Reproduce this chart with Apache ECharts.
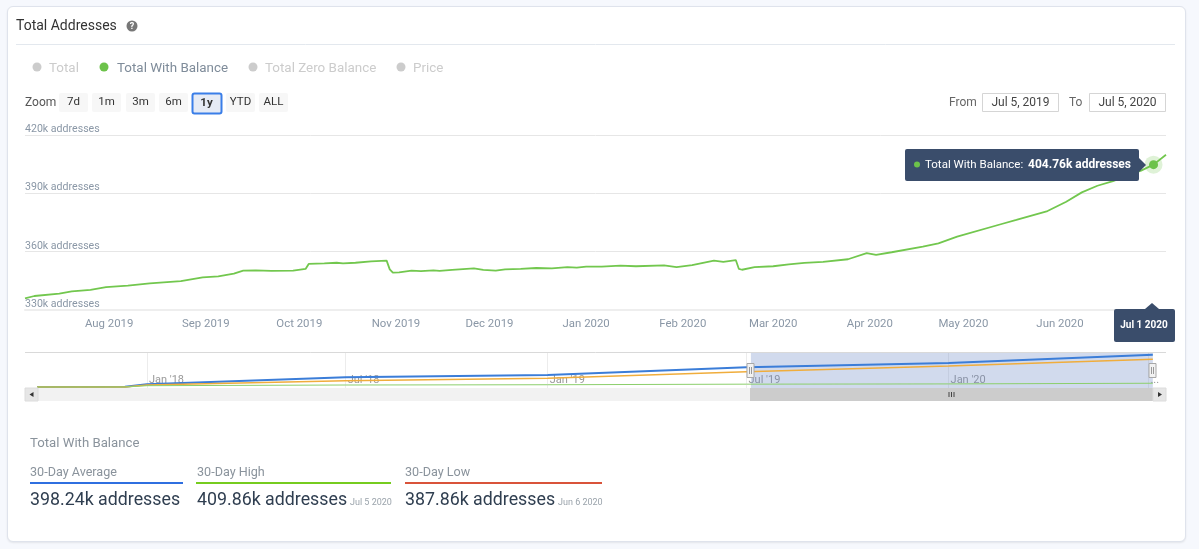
<!DOCTYPE html>
<html>
<head>
<meta charset="utf-8">
<script src="https://cdn.jsdelivr.net/npm/echarts@6/dist/echarts.min.js"></script>
<style>
html,body{margin:0;padding:0;width:1199px;height:549px;overflow:hidden;background:#f6f8fd}
#card{position:absolute;left:7px;top:6px;width:1177px;height:534px;background:#fff;border:1px solid #dfe3ec;border-radius:6px;box-sizing:content-box;box-shadow:0 1px 2px rgba(0,0,0,.08)}
#c{position:absolute;left:0;top:0;width:1199px;height:549px}
</style>
</head>
<body>
<div id="card"></div>
<div id="c"></div>
<script>
var mainDates = ['2019-07-05','2019-07-08','2019-07-16','2019-07-20','2019-07-26','2019-07-31','2019-08-07','2019-08-14','2019-08-24','2019-08-31','2019-09-05','2019-09-10','2019-09-13','2019-09-17','2019-09-22','2019-09-29','2019-10-03','2019-10-04','2019-10-09','2019-10-13','2019-10-15','2019-10-19','2019-10-24','2019-10-29','2019-10-30','2019-10-31','2019-11-02','2019-11-06','2019-11-09','2019-11-13','2019-11-15','2019-11-19','2019-11-26','2019-11-29','2019-12-03','2019-12-06','2019-12-11','2019-12-16','2019-12-21','2019-12-26','2019-12-29','2020-01-01','2020-01-06','2020-01-12','2020-01-17','2020-01-26','2020-01-30','2020-02-04','2020-02-11','2020-02-14','2020-02-18','2020-02-19','2020-02-20','2020-02-24','2020-03-01','2020-03-06','2020-03-11','2020-03-17','2020-03-25','2020-03-31','2020-04-03','2020-04-08','2020-04-18','2020-04-23','2020-04-29','2020-05-13','2020-05-18','2020-05-28','2020-06-03','2020-06-08','2020-06-13','2020-06-18','2020-06-23','2020-06-27','2020-07-01','2020-07-05'];
var withBalance = [336000,337200,338400,339600,340400,341800,342500,343700,344800,346800,347300,348700,350200,350400,350100,350200,351100,353700,354000,354300,354000,354300,355000,355400,350900,349200,349400,350200,350000,350400,350100,350600,351400,350600,350200,350900,351100,351600,351400,352100,351800,352300,352300,352800,352500,353000,352100,353100,355400,354800,355700,351100,350700,352000,352500,353500,354200,354700,356100,359200,358400,359700,362600,364300,367700,374100,376300,380900,385700,390500,393900,396300,399400,401700,404760,409860];
var monthTicks = ['2019-08-01','2019-09-01','2019-10-01','2019-11-01','2019-12-01','2020-01-01','2020-02-01','2020-03-01','2020-04-01','2020-05-01','2020-06-01'];
var monthLabels = ['Aug 2019','Sep 2019','Oct 2019','Nov 2019','Dec 2019','Jan 2020','Feb 2020','Mar 2020','Apr 2020','May 2020','Jun 2020'];
var navDates = ['2017-09-23','2017-12-12','2018-01-01','2018-07-01','2019-01-01','2019-07-01','2020-01-01','2020-07-05'];
var navTotal = [86000,110000,320000,920000,1120000,1780000,2150000,2870000];
var navZero = [86000,95000,258000,628000,835000,1400000,1890000,2470000];
var navWithBalance = [86000,90000,198000,258000,280000,330000,352000,409860];
var navTicks = ['2018-01-01','2018-07-01','2019-01-01','2019-07-01','2020-01-01','2020-07-01'];
var navLabels = ["Jan '18","Jul '18","Jan '19","Jul '19","Jan '20","..."];
var legendNames = ['Total','Total With Balance','Total Zero Balance','Price'];
var zoomButtons = ['7d','1m','3m','6m','1y','YTD','ALL'];

function ts(s){return Date.parse(s+'T00:00:00Z');}
var F='Roboto, sans-serif';
var g=[];
function T(x,y,t,font,fill,align,z){g.push({type:'text',z:z||50,style:{x:x,y:y+1,text:t,font:font,fill:fill,textAlign:align||'left',textVerticalAlign:'middle'}});}
function R(x,y,w,h,fill,opt){opt=opt||{};g.push({type:'rect',z:opt.z||40,shape:{x:x,y:y,width:w,height:h,r:opt.r||0},style:{fill:fill,stroke:opt.stroke||null,lineWidth:opt.lw||0}});}
function L(x1,y1,x2,y2,c,w,z){g.push({type:'line',z:z||40,shape:{x1:x1,y1:y1,x2:x2,y2:y2},style:{stroke:c,lineWidth:w||1}});}
function C(x,y,r,c){g.push({type:'circle',z:45,shape:{cx:x,cy:y,r:r},style:{fill:c}});}
function P(pts,c,z){g.push({type:'polygon',z:z||60,shape:{points:pts},style:{fill:c}});}

// header
T(16,25,'Total Addresses','14px '+F,'#333');
C(132,26,5.5,'#777');
T(132,25.5,'?','bold 9px '+F,'#fff','center');
L(16,44.5,1175,44.5,'#e3e8ee',1);
// legend
var lx=[37,104,253,401], ltx=[49,117,265,413];
legendNames.forEach(function(n,i){
  C(lx[i],67,4.5,i===1?'#6cc24a':'#cccccc');
  T(ltx[i],68,n,'13.4px '+F,i===1?'#7f8c9a':'#cccccc');
});
// zoom buttons
T(25,102,'Zoom','12px '+F,'#555');
var bx=[59,92,126,159,192,226,259];
zoomButtons.forEach(function(b,i){
  if(i===4){R(bx[i]+.5,93.5,29,20,'#e6ebf5',{stroke:'#3a7ee8',lw:2,r:2});}
  else{R(bx[i],93,29,19,'#f7f7f7',{r:2});}
  T(bx[i]+14.5,i===4?102.5:101.5,b,(i===4?'bold ':'')+'11.5px '+F,'#333','center');
});
// date range
T(949,101.5,'From','12px '+F,'#666');
R(982.5,93.5,76,18,'#fff',{stroke:'#d5d5d5',lw:1});
T(1020.5,101.5,'Jul 5, 2019','12px '+F,'#444','center');
T(1069,101.5,'To','12px '+F,'#666');
R(1089.5,93.5,76,18,'#fff',{stroke:'#d5d5d5',lw:1});
T(1127.5,101.5,'Jul 5, 2020','12px '+F,'#444','center');
// tooltips
R(905,149,234,32,'#3a4d6b',{r:2,z:60});
P([[1139,158],[1146,165],[1139,172]],'#3a4d6b');
g.push({type:'circle',z:61,shape:{cx:917,cy:164.5,r:3},style:{fill:'#6cc24a'}});
g.push({type:'text',z:62,style:{x:925,y:165,textVerticalAlign:'middle',text:'Total With Balance: ',font:'11.5px '+F,fill:'#fff'}});
g.push({type:'text',z:62,style:{x:1028,y:165,textVerticalAlign:'middle',text:'404.76k addresses',font:'bold 12px '+F,fill:'#fff'}});
R(1114,309,61,33,'#3a4d6b',{r:2,z:60});
P([[1145,309],[1152,303],[1159,309]],'#3a4d6b');
T(1144,324,'Jul 1 2020','bold 10px '+F,'#fff','center',62);
// navigator frame
L(25,352.5,1166,352.5,'#d9d9d9',1);
R(25,388,1141,13,'#f2f2f2',{z:30});
R(25,388,13,13,'#e6e6e6',{stroke:'#dcdcdc',lw:1,z:31});
P([[33.5,392],[33.5,397],[29.5,394.5]],'#333',32);
R(750,388,403,13,'#cccccc',{z:31});
R(1153,388,13,13,'#e6e6e6',{stroke:'#dcdcdc',lw:1,z:31});
P([[1158,392],[1158,397],[1162,394.5]],'#333',32);
[949,951.5,954].forEach(function(x){L(x,392,x,397,'#444',1,32);});
// nav handles
[750.5,1152.5].forEach(function(x){
  R(x-3.5,363.5,7,14,'#f2f2f2',{stroke:'#a8a8a8',lw:1,z:55});
  L(x-1,367,x-1,374,'#999',1,56);L(x+1,367,x+1,374,'#999',1,56);
});
// stats
T(30,443,'Total With Balance','13.2px '+F,'#8a939c');
T(30,472,'30-Day Average','12.6px '+F,'#8a939c');
T(197,472,'30-Day High','12.6px '+F,'#8a939c');
T(405,472,'30-Day Low','12.6px '+F,'#8a939c');
R(30,482,153,2,'#2f6fe0');
R(196,482,195,2,'#76cc1f');
R(405,482,197,2,'#d9533a');
T(30,500,'398.24k addresses','17.8px '+F,'#2f3e50');
T(197,500,'409.86k addresses','17.8px '+F,'#2f3e50');
T(350,502,'Jul 5 2020','9px '+F,'#9aa3ab');
T(405,500,'387.86k addresses','17.8px '+F,'#2f3e50');
T(558,502,'Jun 6 2020','9px '+F,'#9aa3ab');

var chart=echarts.init(document.getElementById('c'),null,{width:1199,height:549});
function pairs(d,v){return d.map(function(s,i){return [ts(s),v[i]];});}
var selStart=ts('2019-07-05'), selEnd=ts('2020-07-05');
chart.setOption({
  animation:false,
  backgroundColor:'transparent',
  textStyle:{fontFamily:F},
  grid:[
    {left:25,width:1141,top:135,height:175},
    {left:25,width:1141,top:352,height:36}
  ],
  xAxis:[
    {type:'value',gridIndex:0,min:selStart,max:selEnd,
     axisLine:{show:true,lineStyle:{color:'#eeeeee',width:2}},
     axisTick:{show:false,customValues:monthTicks.map(ts)},
     splitLine:{show:false},
     axisLabel:{customValues:monthTicks.map(ts),margin:8.5,fontSize:11.4,fontFamily:F,color:'#8a97a6',hideOverlap:false,
       formatter:function(v){return monthLabels[monthTicks.map(ts).indexOf(+v)]||'';}}},
    {type:'value',gridIndex:1,min:ts('2017-09-12'),max:ts('2020-07-17'),
     axisLine:{show:false},
     axisTick:{show:false,customValues:navTicks.map(ts)},
     splitLine:{show:true,lineStyle:{color:'#ececec',width:1}},
     axisLabel:{customValues:navTicks.map(ts),inside:true,margin:2,fontSize:11,fontFamily:F,color:'#999999',align:'left',hideOverlap:false,padding:[0,0,0,2],
       formatter:function(v){return navLabels[navTicks.map(ts).indexOf(+v)]||'';}}}
  ],
  yAxis:[
    {type:'value',gridIndex:0,min:330000,max:420000,interval:30000,
     axisLine:{show:false},axisTick:{show:false},
     splitLine:{show:true,lineStyle:{color:'#e6e6e6',width:1}},
     axisLabel:{inside:true,margin:0,fontSize:10.6,fontFamily:F,color:'#8a97a6',verticalAlign:'bottom',align:'left',
       formatter:function(v){return (v/1000)+'k addresses';}}},
    {type:'value',gridIndex:1,min:0,max:3100000,show:false}
  ],
  series:[
    {name:'Total With Balance',type:'line',xAxisIndex:0,yAxisIndex:0,showSymbol:false,smooth:false,
     data:pairs(mainDates,withBalance),lineStyle:{color:'#72c74e',width:1.8},
     markPoint:{silent:true,z:20,label:{show:false},data:[
       {coord:[ts('2020-07-01'),404760],symbol:'circle',symbolSize:18,itemStyle:{color:'rgba(108,194,74,0.22)'}},
       {coord:[ts('2020-07-01'),404760],symbol:'circle',symbolSize:9,itemStyle:{color:'#6cc24a'}}
     ]}},
    {name:'Nav Total',type:'line',xAxisIndex:1,yAxisIndex:1,showSymbol:false,data:pairs(navDates,navTotal),lineStyle:{color:'#3b7dd8',width:2},z:3},
    {name:'Nav Zero',type:'line',xAxisIndex:1,yAxisIndex:1,showSymbol:false,data:pairs(navDates,navZero),lineStyle:{color:'#f0ad3c',width:1.5},z:3},
    {name:'Nav With Balance',type:'line',xAxisIndex:1,yAxisIndex:1,showSymbol:false,data:pairs(navDates,navWithBalance),lineStyle:{color:'#8ccf6c',width:1},z:3,
     markArea:{silent:true,itemStyle:{color:'rgba(102,133,194,0.3)'},label:{show:false},data:[[{xAxis:selStart},{xAxis:selEnd}]]}}
  ],
  graphic:{elements:g}
});
</script>
</body>
</html>
